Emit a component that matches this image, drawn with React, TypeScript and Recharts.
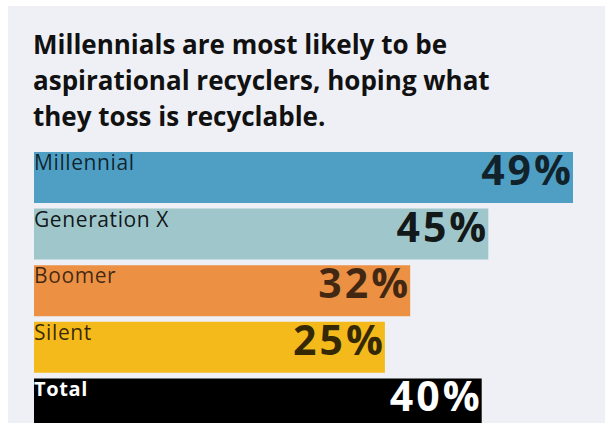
import React from "react";
import { BarChart, Bar, XAxis, YAxis, Cell, LabelList } from "recharts";

const categories = ["Millennial", "Generation X", "Boomer", "Silent", "Total"];
// bar lengths as drawn in the picture (same axis units, 0–50)
const barLengths = [49, 41.3, 34.2, 31.9, 40.7];
const shareLabels = ["49%", "45%", "32%", "25%", "40%"];
const barColors = ["#4f9ec4", "#9ec6cb", "#ec9144", "#f4b91b", "#000000"];
const textColors = ["rgba(0,0,0,0.78)", "rgba(0,0,0,0.9)", "rgba(0,0,0,0.72)", "rgba(0,0,0,0.78)", "#ffffff"];
const titleLines = [
  "Millennials are most likely to be",
  "aspirational recyclers, hoping what",
  "they toss is recyclable.",
];

const data = categories.map((c, i) => ({ name: c, value: barLengths[i], label: shareLabels[i] }));

const BarText = (props: any) => {
  const { x, y, width, index } = props;
  const color = textColors[index];
  const isTotal = index === categories.length - 1;
  return (
    <g>
      <text
        x={x}
        y={y + 18}
        fill={color}
        fontFamily="'Open Sans', sans-serif"
        fontSize={isTotal ? 20 : 21}
        fontWeight={isTotal ? 700 : 400}
        letterSpacing={0.6}
      >
        {categories[index]}
      </text>
      <text
        x={x + width + 1}
        y={y + 33}
        fill={color}
        textAnchor="end"
        fontFamily="'Open Sans', sans-serif"
        fontSize={41}
        fontWeight={700}
        letterSpacing={3}
      >
        {shareLabels[index]}
      </text>
    </g>
  );
};

export default function App() {
  return (
    <div style={{ position: "fixed", left: 0, top: 0, width: 605, height: 423, overflow: "hidden", background: "#ffffff" }}>
      <div style={{ position: "absolute", left: 8, top: 6, width: 597, height: 417, background: "#eff0f5" }} />
      <div
        style={{
          position: "absolute",
          left: 33,
          top: 26,
          fontFamily: "'Open Sans', sans-serif",
          fontWeight: 700,
          fontSize: 26,
          lineHeight: "36px",
          color: "#111111",
          whiteSpace: "nowrap",
        }}
      >
        {titleLines.map((l) => (
          <div key={l}>{l}</div>
        ))}
      </div>
      <div style={{ position: "absolute", left: 0, top: 0 }}>
        <BarChart
          width={605}
          height={432}
          data={data}
          layout="vertical"
          margin={{ top: 149, right: 21, bottom: 0, left: 34 }}
        >
          <XAxis type="number" domain={[0, 50]} hide />
          <YAxis type="category" dataKey="name" hide />
          <Bar dataKey="value" barSize={51} isAnimationActive={false}>
            {data.map((d, i) => (
              <Cell key={d.name} fill={barColors[i]} />
            ))}
            <LabelList dataKey="label" content={<BarText />} />
          </Bar>
        </BarChart>
      </div>
    </div>
  );
}
